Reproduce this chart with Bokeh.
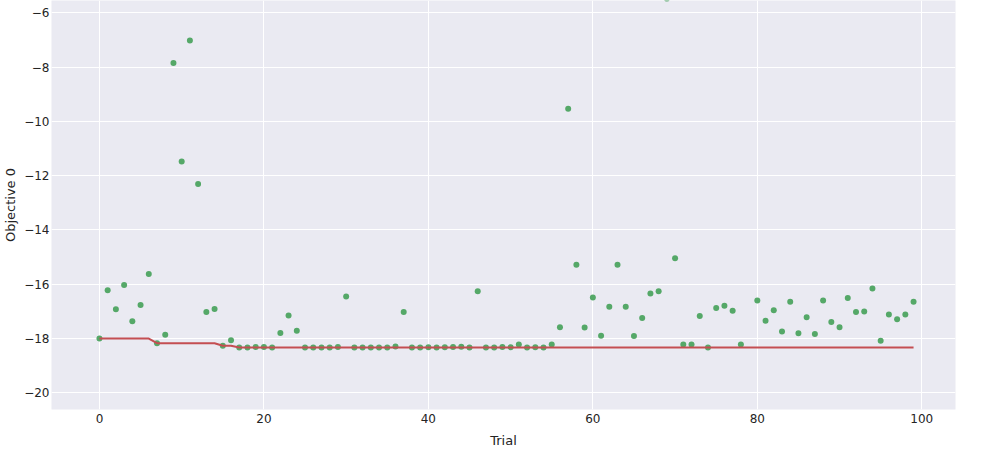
import numpy as np
from bokeh.plotting import figure
from bokeh.models import Range1d, FixedTicker
from bokeh.embed import file_html
from bokeh.resources import INLINE

nan = float("nan")

trials = list(range(100))
objective = [
    -18.00, -16.22, -16.92, -16.03, -17.36, -16.76, -15.62, -18.17, -17.86, -7.85,
    -11.48, -7.02, -12.31, -17.02, -16.91, -18.26, -18.06, -18.33, -18.33, -18.31,
    -18.31, -18.33, -17.79, -17.15, -17.71, -18.33, -18.33, -18.33, -18.33, -18.31,
    -16.45, -18.33, -18.33, -18.33, -18.33, -18.33, -18.29, -17.02, -18.33, -18.33,
    -18.32, -18.33, -18.32, -18.31, -18.30, -18.33, -16.26, -18.33, -18.33, -18.31,
    -18.32, -18.22, -18.33, -18.32, -18.33, -18.22, -17.58, -9.54, -15.28, -17.59,
    -16.49, -17.89, -16.83, -15.28, -16.83, -17.90, -17.24, -16.34, -16.26, -5.48,
    -15.04, -18.22, -18.22, -17.17, -18.33, -16.87, -16.79, -16.97, -18.22, nan,
    -16.60, -17.34, -16.96, -17.74, -16.64, -17.80, -17.21, -17.83, -16.60, -17.39,
    -17.58, -16.50, -17.02, -17.00, -16.15, -18.08, -17.11, -17.29, -17.11, -16.64,
]
x_ticks = [0, 20, 40, 60, 80, 100]
y_ticks = [-20, -18, -16, -14, -12, -10, -8, -6]

best = np.fmin.accumulate(np.array(objective, dtype=float))

FONT = "DejaVu Sans"
TXT = "#242424"

p = figure(
    frame_width=904, frame_height=409,
    x_range=Range1d(-5.83, 104.1), y_range=Range1d(-20.61, -5.55),
    output_backend="svg", toolbar_location=None,
    min_border_left=2, min_border_right=30, min_border_top=0, min_border_bottom=0,
    background_fill_color="#EAEAF2", border_fill_color="white",
)
p.outline_line_color = None

for ax in (p.xaxis[0], p.yaxis[0]):
    ax.axis_line_color = None
    ax.major_tick_line_color = None
    ax.minor_tick_line_color = None
    ax.major_tick_out = 0
    ax.major_tick_in = 0
    ax.major_label_text_font = FONT
    ax.major_label_text_font_size = "12px"
    ax.major_label_text_color = TXT
    ax.axis_label_text_font = FONT
    ax.axis_label_text_font_size = "13px"
    ax.axis_label_text_font_style = "normal"
    ax.axis_label_text_color = TXT

p.xaxis[0].ticker = FixedTicker(ticks=x_ticks)
p.yaxis[0].ticker = FixedTicker(ticks=y_ticks)
p.xaxis[0].axis_label = "Trial"
p.yaxis[0].axis_label = "Objective 0"
p.xaxis[0].major_label_standoff = 4
p.yaxis[0].major_label_standoff = 2
p.xaxis[0].axis_label_standoff = 7
p.yaxis[0].axis_label_standoff = 3

for g in (p.xgrid[0], p.ygrid[0]):
    g.grid_line_color = "white"
    g.grid_line_width = 1
p.xgrid[0].ticker = FixedTicker(ticks=x_ticks)
p.ygrid[0].ticker = FixedTicker(ticks=y_ticks)

p.scatter(trials, objective, size=6, color="#55A868", line_color=None)
p.line(trials, best, line_color="#C44E52", line_width=2)

open("out.html", "w").write(file_html(p, INLINE))
